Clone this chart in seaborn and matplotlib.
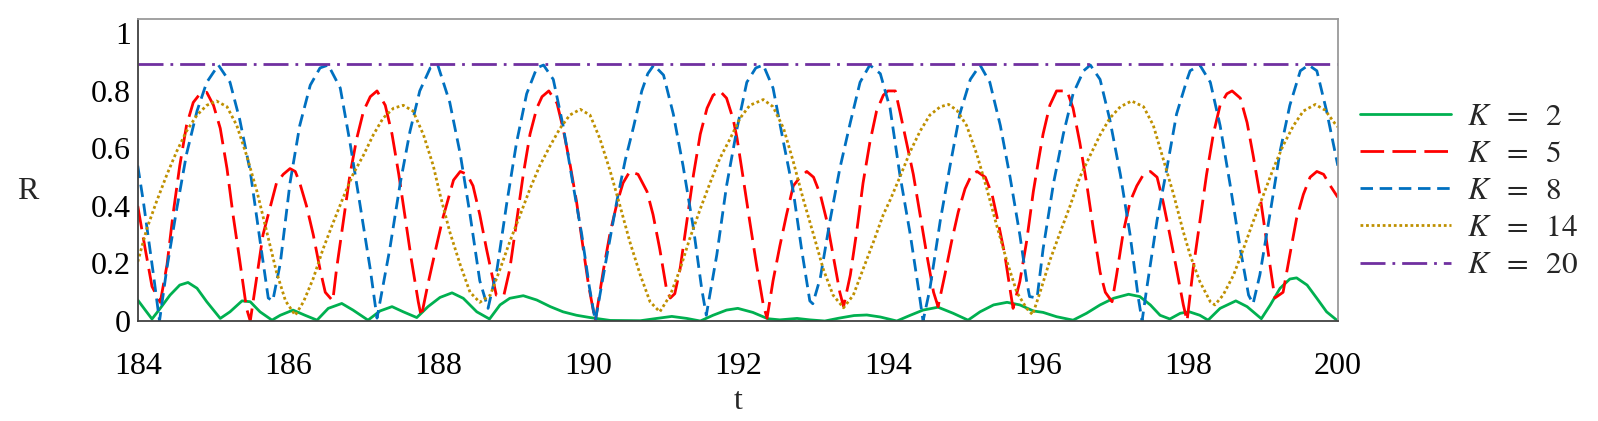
import numpy as np
import matplotlib
matplotlib.use("Agg")
import matplotlib.pyplot as plt
import seaborn as sns

# values: (t, R) pairs per coupling strength K
k2_points = [
    (184.0, 0.073), (184.1, 0.038), (184.19, 0.007), (184.3, 0.044), (184.43, 0.09), (184.56, 0.125),
    (184.67, 0.134), (184.79, 0.114), (184.92, 0.067), (185.1, 0.009), (185.23, 0.032), (185.39, 0.07),
    (185.5, 0.067), (185.63, 0.032), (185.79, 0.003), (185.9, 0.02), (186.07, 0.038), (186.23, 0.02),
    (186.39, 0.003), (186.54, 0.044), (186.72, 0.061), (186.87, 0.038), (187.07, 0.003), (187.23, 0.035),
    (187.39, 0.05), (187.54, 0.032), (187.72, 0.012), (187.87, 0.05), (188.03, 0.082), (188.19, 0.098),
    (188.34, 0.079), (188.52, 0.032), (188.69, 0.007), (188.83, 0.056), (188.96, 0.079), (189.14, 0.088),
    (189.32, 0.073), (189.5, 0.05), (189.67, 0.032), (189.85, 0.02), (190.03, 0.012), (190.3, 0.002),
    (190.7, 0.001), (190.92, 0.009), (191.12, 0.016), (191.32, 0.009), (191.5, 0.0), (191.67, 0.02),
    (191.85, 0.038), (192.0, 0.044), (192.2, 0.03), (192.4, 0.008), (192.56, 0.004), (192.79, 0.009),
    (192.96, 0.004), (193.16, 0.0), (193.35, 0.01), (193.55, 0.019), (193.72, 0.021), (193.9, 0.014),
    (194.12, 0.0), (194.3, 0.02), (194.47, 0.038), (194.67, 0.048), (194.87, 0.027), (195.07, 0.003),
    (195.23, 0.032), (195.41, 0.056), (195.59, 0.065), (195.76, 0.056), (195.94, 0.035), (196.07, 0.03),
    (196.25, 0.015), (196.47, 0.003), (196.65, 0.027), (196.83, 0.056), (197.01, 0.079), (197.21, 0.093),
    (197.36, 0.085), (197.5, 0.056), (197.63, 0.02), (197.76, 0.007), (197.9, 0.027), (198.02, 0.032),
    (198.16, 0.02), (198.27, 0.003), (198.43, 0.044), (198.64, 0.07), (198.79, 0.05), (198.98, 0.008),
    (199.1, 0.056), (199.23, 0.114), (199.36, 0.146), (199.45, 0.15), (199.59, 0.125), (199.72, 0.079),
    (199.85, 0.032), (200.0, 0.0),
]

k5_points = [
    (184.0, 0.40), (184.1, 0.25), (184.19, 0.12), (184.25, 0.09), (184.3, 0.065), (184.39, 0.195),
    (184.47, 0.37), (184.56, 0.54), (184.65, 0.68), (184.74, 0.76), (184.83, 0.79), (184.92, 0.795),
    (185.01, 0.75), (185.1, 0.67), (185.19, 0.53), (185.27, 0.37), (185.36, 0.21), (185.45, 0.044),
    (185.5, 0.0), (185.59, 0.16), (185.67, 0.30), (185.76, 0.39), (185.85, 0.48), (185.94, 0.51),
    (186.03, 0.53), (186.1, 0.52), (186.16, 0.48), (186.25, 0.40), (186.34, 0.30), (186.43, 0.18),
    (186.5, 0.10), (186.6, 0.07), (186.65, 0.18), (186.74, 0.345), (186.83, 0.51), (186.92, 0.635),
    (187.01, 0.73), (187.1, 0.78), (187.19, 0.80), (187.3, 0.75), (187.39, 0.65), (187.48, 0.51),
    (187.56, 0.37), (187.65, 0.21), (187.74, 0.067), (187.78, 0.015), (187.87, 0.13), (187.99, 0.27),
    (188.07, 0.36), (188.21, 0.49), (188.3, 0.52), (188.39, 0.51), (188.47, 0.47), (188.56, 0.37),
    (188.65, 0.25), (188.74, 0.14), (188.78, 0.09), (188.88, 0.088), (188.96, 0.18), (189.05, 0.345),
    (189.14, 0.51), (189.23, 0.65), (189.32, 0.74), (189.39, 0.78), (189.48, 0.80), (189.59, 0.757),
    (189.67, 0.67), (189.76, 0.55), (189.85, 0.415), (189.94, 0.25), (190.01, 0.125), (190.1, 0.0),
    (190.21, 0.18), (190.3, 0.31), (190.39, 0.41), (190.47, 0.48), (190.56, 0.52), (190.67, 0.51),
    (190.79, 0.45), (190.87, 0.37), (190.96, 0.25), (191.05, 0.11), (191.1, 0.08), (191.16, 0.095),
    (191.23, 0.18), (191.32, 0.345), (191.41, 0.51), (191.5, 0.65), (191.59, 0.74), (191.67, 0.785),
    (191.76, 0.80), (191.85, 0.775), (191.94, 0.70), (191.99, 0.635), (192.07, 0.50), (192.16, 0.345),
    (192.25, 0.195), (192.34, 0.056), (192.39, 0.01), (192.47, 0.14), (192.56, 0.26), (192.65, 0.37),
    (192.74, 0.47), (192.83, 0.50), (192.92, 0.52), (193.01, 0.50), (193.1, 0.44), (193.19, 0.345),
    (193.27, 0.23), (193.36, 0.10), (193.41, 0.05), (193.5, 0.16), (193.59, 0.32), (193.67, 0.48),
    (193.76, 0.62), (193.85, 0.73), (193.94, 0.785), (194.0, 0.80), (194.1, 0.80), (194.16, 0.73),
    (194.25, 0.62), (194.34, 0.51), (194.43, 0.37), (194.52, 0.23), (194.61, 0.10), (194.67, 0.05),
    (194.76, 0.16), (194.85, 0.276), (194.94, 0.38), (195.03, 0.46), (195.12, 0.51), (195.19, 0.52),
    (195.3, 0.50), (195.39, 0.44), (195.47, 0.345), (195.56, 0.23), (195.63, 0.11), (195.67, 0.044),
    (195.76, 0.137), (195.85, 0.276), (195.94, 0.45), (196.01, 0.56), (196.07, 0.65), (196.16, 0.75),
    (196.25, 0.80), (196.39, 0.80), (196.47, 0.74), (196.56, 0.62), (196.65, 0.48), (196.74, 0.32),
    (196.83, 0.17), (196.9, 0.10), (196.99, 0.067), (197.05, 0.16), (197.14, 0.31), (197.23, 0.415),
    (197.32, 0.47), (197.41, 0.51), (197.5, 0.52), (197.59, 0.50), (197.67, 0.415), (197.76, 0.30),
    (197.85, 0.18), (197.94, 0.056), (197.99, 0.0), (198.07, 0.18), (198.16, 0.345), (198.25, 0.51),
    (198.34, 0.65), (198.43, 0.75), (198.52, 0.79), (198.59, 0.80), (198.7, 0.775), (198.79, 0.69),
    (198.87, 0.577), (198.96, 0.44), (199.05, 0.276), (199.12, 0.15), (199.16, 0.08), (199.27, 0.10),
    (199.36, 0.23), (199.45, 0.357), (199.54, 0.44), (199.63, 0.50), (199.72, 0.52), (199.81, 0.51),
    (199.9, 0.47), (200.0, 0.43),
]

k8_points = [
    (184.0, 0.54), (184.075, 0.415), (184.21, 0.16), (184.29, 0.0), (184.386, 0.18), (184.52, 0.39),
    (184.65, 0.58), (184.79, 0.73), (184.92, 0.83), (185.075, 0.89), (185.23, 0.83), (185.36, 0.70),
    (185.5, 0.52), (185.63, 0.28), (185.74, 0.08), (185.8, 0.07), (185.9, 0.20), (186.03, 0.48),
    (186.16, 0.68), (186.3, 0.82), (186.43, 0.88), (186.54, 0.89), (186.7, 0.81), (186.83, 0.62),
    (186.96, 0.41), (187.1, 0.18), (187.19, 0.01), (187.36, 0.25), (187.5, 0.48), (187.63, 0.66),
    (187.76, 0.80), (187.9, 0.88), (188.0, 0.89), (188.16, 0.76), (188.3, 0.58), (188.43, 0.37),
    (188.56, 0.14), (188.67, 0.044), (188.79, 0.18), (188.92, 0.41), (189.05, 0.62), (189.185, 0.79),
    (189.32, 0.88), (189.41, 0.89), (189.54, 0.84), (189.67, 0.68), (189.8, 0.48), (189.92, 0.30),
    (190.02, 0.12), (190.1, 0.0), (190.25, 0.22), (190.39, 0.42), (190.5, 0.56), (190.61, 0.675),
    (190.72, 0.80), (190.8, 0.86), (190.88, 0.89), (191.01, 0.855), (191.14, 0.72), (191.27, 0.54),
    (191.41, 0.32), (191.52, 0.11), (191.58, 0.02), (191.72, 0.23), (191.85, 0.47), (191.99, 0.67),
    (192.12, 0.83), (192.24, 0.88), (192.34, 0.89), (192.47, 0.81), (192.61, 0.62), (192.74, 0.45),
    (192.85, 0.25), (192.96, 0.07), (193.0, 0.06), (193.1, 0.15), (193.23, 0.35), (193.36, 0.53),
    (193.5, 0.69), (193.63, 0.83), (193.76, 0.89), (193.9, 0.86), (194.03, 0.74), (194.16, 0.51),
    (194.3, 0.30), (194.41, 0.11), (194.47, 0.0), (194.56, 0.11), (194.7, 0.35), (194.83, 0.54),
    (194.96, 0.72), (195.1, 0.84), (195.23, 0.89), (195.36, 0.83), (195.5, 0.68), (195.63, 0.50),
    (195.76, 0.30), (195.85, 0.14), (195.89, 0.085), (195.99, 0.08), (196.07, 0.25), (196.21, 0.48),
    (196.34, 0.65), (196.47, 0.79), (196.61, 0.87), (196.7, 0.89), (196.83, 0.84), (196.96, 0.70),
    (197.1, 0.51), (197.23, 0.30), (197.34, 0.08), (197.39, 0.0), (197.45, 0.11), (197.59, 0.35),
    (197.72, 0.53), (197.85, 0.72), (197.99, 0.84), (198.03, 0.87), (198.16, 0.89), (198.3, 0.83),
    (198.43, 0.68), (198.56, 0.48), (198.7, 0.25), (198.81, 0.09), (198.87, 0.06), (198.96, 0.16),
    (199.1, 0.38), (199.23, 0.59), (199.36, 0.75), (199.5, 0.87), (199.61, 0.89), (199.72, 0.87),
    (199.85, 0.73), (200.0, 0.54),
]

k14_points = [
    (184.0, 0.206), (184.12, 0.32), (184.25, 0.415), (184.39, 0.51), (184.52, 0.59), (184.65, 0.66),
    (184.79, 0.716), (184.92, 0.75), (185.05, 0.765), (185.19, 0.745), (185.32, 0.68), (185.45, 0.577),
    (185.59, 0.45), (185.72, 0.31), (185.85, 0.17), (185.97, 0.07), (186.1, 0.02), (186.21, 0.067),
    (186.34, 0.148), (186.47, 0.25), (186.61, 0.345), (186.74, 0.43), (186.87, 0.51), (187.01, 0.577),
    (187.14, 0.647), (187.27, 0.705), (187.41, 0.74), (187.54, 0.75), (187.67, 0.73), (187.81, 0.647),
    (187.94, 0.54), (188.03, 0.44), (188.16, 0.31), (188.3, 0.195), (188.43, 0.10), (188.56, 0.065),
    (188.7, 0.09), (188.83, 0.18), (188.96, 0.276), (189.1, 0.37), (189.23, 0.46), (189.36, 0.54),
    (189.5, 0.61), (189.63, 0.67), (189.76, 0.716), (189.9, 0.736), (190.03, 0.716), (190.16, 0.635),
    (190.3, 0.52), (190.43, 0.40), (190.56, 0.276), (190.7, 0.16), (190.83, 0.067), (190.96, 0.032),
    (191.1, 0.09), (191.23, 0.18), (191.36, 0.287), (191.5, 0.39), (191.63, 0.48), (191.76, 0.565),
    (191.9, 0.635), (192.03, 0.705), (192.16, 0.75), (192.34, 0.77), (192.47, 0.745), (192.61, 0.67),
    (192.74, 0.554), (192.87, 0.426), (193.01, 0.30), (193.14, 0.18), (193.27, 0.09), (193.41, 0.046),
    (193.54, 0.09), (193.67, 0.18), (193.81, 0.276), (193.94, 0.37), (194.03, 0.42), (194.16, 0.50),
    (194.3, 0.59), (194.43, 0.66), (194.56, 0.716), (194.7, 0.745), (194.81, 0.753), (194.92, 0.733),
    (195.05, 0.68), (195.19, 0.577), (195.32, 0.46), (195.45, 0.334), (195.59, 0.206), (195.72, 0.10),
    (195.85, 0.044), (195.93, 0.022), (196.03, 0.10), (196.16, 0.21), (196.3, 0.31), (196.43, 0.40),
    (196.56, 0.50), (196.7, 0.577), (196.83, 0.647), (196.96, 0.705), (197.1, 0.745), (197.25, 0.765),
    (197.41, 0.745), (197.54, 0.68), (197.67, 0.565), (197.81, 0.44), (197.94, 0.31), (198.03, 0.23),
    (198.16, 0.137), (198.3, 0.067), (198.36, 0.056), (198.47, 0.09), (198.61, 0.16), (198.74, 0.25),
    (198.87, 0.345), (199.01, 0.44), (199.14, 0.53), (199.27, 0.61), (199.41, 0.68), (199.54, 0.73),
    (199.7, 0.753), (199.83, 0.733), (199.96, 0.687), (200.0, 0.675),
]

k20_points = [(184.0, 0.892), (200.0, 0.892)]

series = [
    (r"$K\ \;=\ \;2$", k2_points, "#00B050", "-"),
    (r"$K\ \;=\ \;5$", k5_points, "#FF0000", (0, (8.5, 3))),
    (r"$K\ \;=\ \;8$", k8_points, "#0070C0", (0, (4.5, 2.4))),
    (r"$K\ \;=\ \;14$", k14_points, "#BF9000", (0, (1, 1))),
    (r"$K\ \;=\ \;20$", k20_points, "#7030A0", (0, (9, 2.5, 1, 2.5))),
]

sns.set_style("white")
plt.rcParams["font.family"] = ["Liberation Serif", "DejaVu Serif"]
plt.rcParams["mathtext.fontset"] = "stix"

fig = plt.figure(figsize=(15.98, 4.21), dpi=100)
ax = fig.add_axes([0.0862, 0.2375, 0.751, 0.7173])

for label, pts, color, ls in series:
    arr = np.array(pts)
    sns.lineplot(x=arr[:, 0], y=arr[:, 1], ax=ax, color=color, linestyle=ls,
                 linewidth=2.0, label=label, estimator=None, sort=False)

ax.set_xlim(184, 200)
ax.set_ylim(0, 1.05)
ax.set_xticks(np.arange(184, 201, 2))
ax.set_yticks([0, 0.2, 0.4, 0.6, 0.8, 1.0])
ax.set_yticklabels(["0", "0.2", "0.4", "0.6", "0.8", "1"])
ax.tick_params(axis="both", direction="in", length=7, width=1, labelsize=23,
               colors="#333333", labelcolor="black")
ax.tick_params(axis="x", pad=22)
ax.tick_params(axis="y", pad=5)

for side in ["left", "bottom"]:
    ax.spines[side].set_color("#404040")
    ax.spines[side].set_linewidth(1.3)
for side in ["top", "right"]:
    ax.spines[side].set_color("#9a9a9a")
    ax.spines[side].set_linewidth(1.3)

ax.set_xlabel("t", fontsize=23, va="center")
ax.xaxis.set_label_coords(0.5, -0.267)
ax.set_ylabel("R", fontsize=23, rotation=0, va="center", ha="center")
ax.yaxis.set_label_coords(-0.0914, 0.428)

ax.legend(loc="upper left", bbox_to_anchor=(1.0186, 0.722), frameon=False,
          fontsize=22.5, handlelength=2.91, handletextpad=0.51, labelspacing=0.26,
          borderaxespad=0, borderpad=0)

fig.savefig("out.png", dpi=100)
